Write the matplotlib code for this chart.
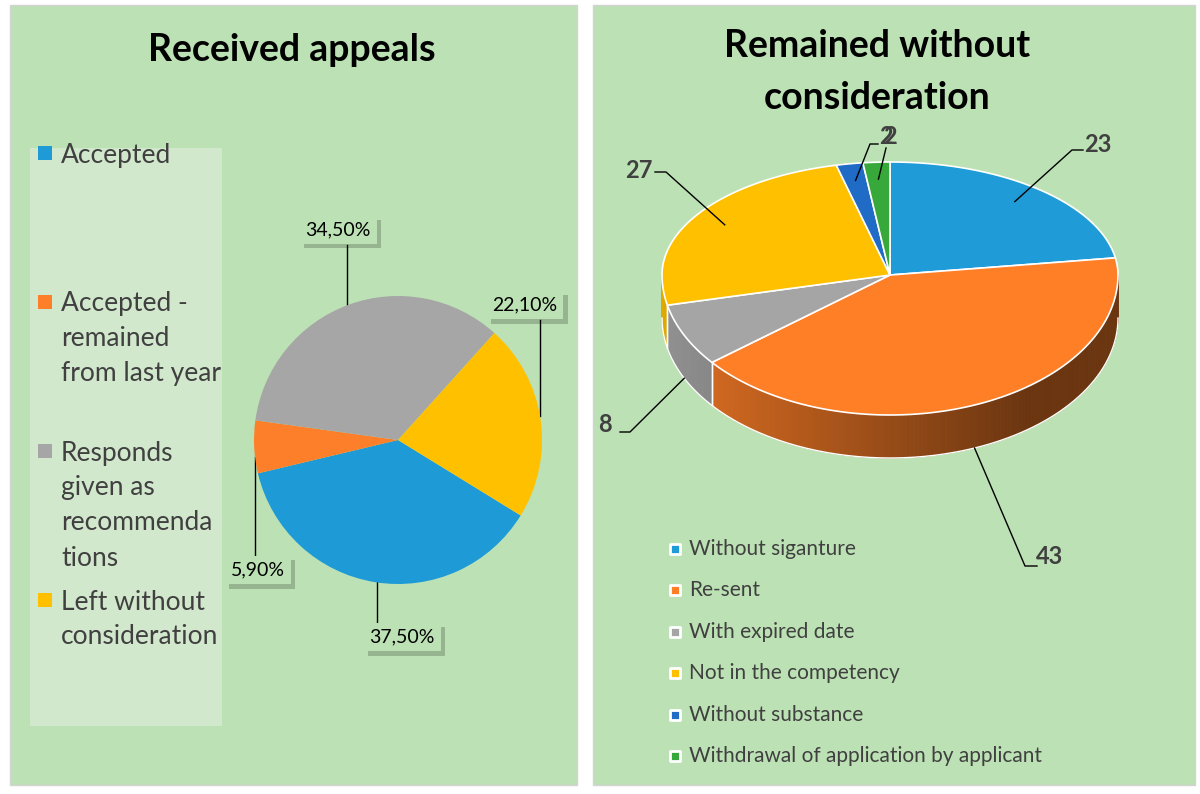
import numpy as np
import matplotlib
matplotlib.use("Agg")
import matplotlib.pyplot as plt
from matplotlib.patches import Rectangle, Polygon
import matplotlib.patheffects as pe
from matplotlib.colors import to_rgb

plt.rcParams['font.family'] = ['Lato', 'DejaVu Sans']

# left chart: received appeals
recv_labels = ["Accepted", "Accepted -\nremained\nfrom last year",
               "Responds\ngiven as\nrecommenda\ntions", "Left without\nconsideration"]
recv_share = [37.5, 5.9, 34.5, 22.1]
recv_text = ["37,50%", "5,90%", "34,50%", "22,10%"]
recv_colors = ["#1E9AD6", "#FD7F29", "#A6A6A6", "#FFC000"]

# right chart: remained without consideration
rem_labels = ["Without siganture", "Re-sent", "With expired date",
              "Not in the competency", "Without substance",
              "Withdrawal of application by applicant"]
rem_counts = [23, 43, 8, 27, 2, 2]
rem_colors = ["#1F9BD7", "#FF7F27", "#A5A5A5", "#FFC000", "#1F6BC6", "#37A93B"]

GREEN = "#BCE1B4"
LEG_BG = "#D2E8CC"
TXT = "#404040"

fig = plt.figure(figsize=(12, 7.94), dpi=100)
ax = fig.add_axes([0, 0, 1, 1])
ax.set_xlim(0, 1200)
ax.set_ylim(794, 0)
ax.axis('off')

# panels
ax.add_patch(Rectangle((10, 5), 567, 780, fc=GREEN, ec="#D3D3D3", lw=1))
ax.add_patch(Rectangle((593, 5), 602, 780, fc=GREEN, ec="#D3D3D3", lw=1))
ax.add_patch(Rectangle((30, 148), 192, 578, fc=LEG_BG, ec='none'))

ax.text(292, 50, "Received appeals", fontsize=27, fontweight='bold',
        ha='center', va='center', color='black')
ax.text(877, 72, "Remained without\nconsideration", fontsize=27, fontweight='bold',
        ha='center', va='center', color='black', linespacing=1.65)

# ---- left legend
leg_y = [153, 302, 451, 600]
for lab, col, y in zip(recv_labels, recv_colors, leg_y):
    ax.scatter([45], [y], s=105, marker='s', color=col, linewidths=0)
    ax.text(61, y - 10.5, lab, fontsize=19, color=TXT, ha='left', va='top',
            linespacing=1.5)

# ---- left pie
pcx, pcy, pr = 398, 440, 144
ax2 = fig.add_axes([(pcx - pr) / 1200, (794 - pcy - pr) / 794, 2 * pr / 1200, 2 * pr / 794])
ax2.pie(recv_share, colors=recv_colors, startangle=-31.6, counterclock=False,
        wedgeprops=dict(linewidth=0))
ax2.set_xlim(-1, 1)
ax2.set_ylim(-1, 1)

# label box centre (x, y) and leader x
recv_lbl_pos = [(402, 637, 377), (258, 570, 255), (338, 230, 347), (525, 305, 540)]
for txt, (lx, ly, lead_x) in zip(recv_text, recv_lbl_pos):
    dy = np.sqrt(max(pr ** 2 - (lead_x - pcx) ** 2, 0))
    if ly > pcy:
        y_edge, y_box = pcy + dy, ly - 15
    else:
        y_edge, y_box = pcy - dy, ly + 15
    if txt == "5,90%":
        y_edge = pcy + dy
    ax.plot([lead_x, lead_x], [y_box, y_edge], color='black', lw=1)
    t = ax.text(lx, ly, txt, fontsize=14, color='black', ha='center', va='center',
                bbox=dict(boxstyle='square,pad=0.3', fc=GREEN, ec='none'))
    t.get_bbox_patch().set_path_effects([
        pe.SimplePatchShadow(offset=(3, -3), shadow_rgbFace='black', alpha=0.2),
        pe.Normal()])

# ---- right 3D pie (front half drawn slightly larger for a perspective feel)
cx, cy, rx, ry_back, ry_front, depth = 890, 275, 228, 113, 140, 43
total = sum(rem_counts)
bounds = 90 - np.cumsum([0] + rem_counts) / total * 360


def warp(t):
    t = np.asarray(t, dtype=float)
    return t - 3.0 * (1 - np.sin(np.radians(t)))


def pt(t, k=1.0, dz=0.0):
    r = np.radians(warp(t))
    s = np.sin(r)
    ry = np.where(s >= 0, ry_back, ry_front)
    return cx + k * rx * np.cos(r), cy - k * ry * s + dz


def shade(col, t):
    u = (np.cos(np.radians(warp(t))) + 1) / 2
    f = 0.88 - 0.46 * min(u / 0.8, 1.0)
    return tuple(np.array(to_rgb(col)) * f)


def unwarp_limit(target):
    # angle whose warped value equals target (monotone map)
    lo, hi = target - 20, target + 20
    for _ in range(60):
        m = (lo + hi) / 2
        if warp(m) < target:
            lo = m
        else:
            hi = m
    return (lo + hi) / 2


left_lim, right_lim = unwarp_limit(-180), unwarp_limit(0)

# side walls (front half only)
for i, col in enumerate(rem_colors):
    hi, lo = bounds[i], bounds[i + 1]
    a, b = max(lo, left_lim), min(hi, right_lim)
    if a >= b:
        continue
    ts = np.linspace(a, b, max(int((b - a) / 1.0), 2))
    for t1, t2 in zip(ts[:-1], ts[1:]):
        p1, p2 = pt(t1), pt(t2)
        q1, q2 = pt(t1, dz=depth), pt(t2, dz=depth)
        c = shade(col, (t1 + t2) / 2)
        ax.add_patch(Polygon([p1, p2, q2, q1], closed=True, fc=c, ec=c, lw=0.6))
    for t in (a, b):
        if left_lim < t < right_lim:
            x0, y0 = pt(t)
            ax.plot([x0, x0], [y0, y0 + depth], color='white', lw=1)

# bottom outline
tb = np.linspace(left_lim, right_lim, 200)
xb, yb = pt(tb, dz=depth)
ax.plot(xb, yb, color='white', lw=1)

# top faces
for i, col in enumerate(rem_colors):
    hi, lo = bounds[i], bounds[i + 1]
    ts = np.linspace(hi, lo, max(int(abs(hi - lo)), 3))
    xs, ys = pt(ts)
    verts = [(cx, cy)] + list(zip(xs, ys))
    ax.add_patch(Polygon(verts, closed=True, fc=col, ec='white', lw=1.2, joinstyle='round'))

# data labels: text position, elbow point
rem_lbl_pos = [(1098, 145), (1050, 556), (605, 424), (639, 170), (886, 137), (890, 136)]
rem_elbow = [(1072, 150, 1083), (1025, 566, 1037), (630, 432, 620),
             (666, 172, 655), (870, 144, 878), (886, 148, 886)]
for i, n in enumerate(rem_counts):
    mid = (bounds[i] + bounds[i + 1]) / 2
    if np.sin(np.radians(mid)) < 0:
        ax_, ay_ = pt(mid, k=1.0, dz=depth)
    else:
        ax_, ay_ = pt(mid, k=0.85)
    ex, ey, hx = rem_elbow[i]
    ax.plot([ax_, ex, hx], [ay_, ey, ey], color='black', lw=1)
    tx, ty = rem_lbl_pos[i]
    ax.text(tx, ty, str(n), fontsize=17, fontweight='bold', color=TXT,
            ha='center', va='center')

# right legend
rleg_y = [549, 590, 632, 673, 715, 756]
for lab, col, y in zip(rem_labels, rem_colors, rleg_y):
    ax.scatter([675], [y], s=62, marker='s', color=col, edgecolors='white', linewidths=2)
    ax.text(689, y, lab, fontsize=15, color=TXT, ha='left', va='center')

fig.savefig("out.png", dpi=100, facecolor='white')
